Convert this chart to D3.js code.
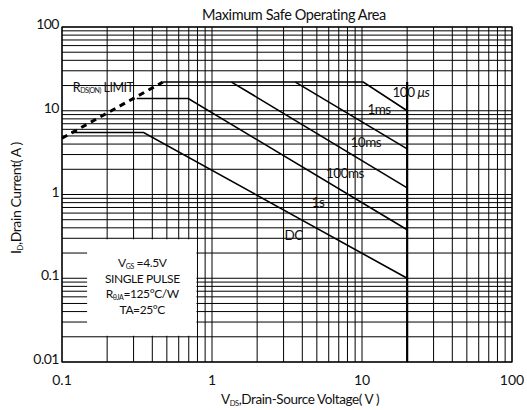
<!DOCTYPE html>
<html><head><meta charset="utf-8">
<script src="https://cdn.jsdelivr.net/npm/d3@7"></script>
<style>
html,body{margin:0;padding:0;background:#fff;}
svg text{font-family:Lato,"Liberation Sans",sans-serif;fill:#111;}
</style></head>
<body>
<svg id="chart" width="527" height="410"></svg>
<script>
// ---- data ----
const xTickValues = [0.1, 1, 10, 100];
const xTickLabels = ["0.1", "1", "10", "100"];
const yTickValues = [0.01, 0.1, 1, 10, 100];
const yTickLabels = ["0.01", "0.1", "1", "10", "100"];

// SOA boundaries: [VDS (V), ID (A)]
const rdsLimit = [[0.1, 4.7], [0.47, 22]];
const curve100us = [[0.47, 22], [10.2, 22], [20, 10]];
const curve1ms = [[3.6, 22], [20, 3.5]];
const curve10ms = [[1.35, 22], [20, 1.2]];
const curve100ms = [[0.315, 14], [0.695, 14], [20, 0.38]];
const curveDC = [[0.115, 5.5], [0.35, 5.5], [20, 0.1]];
const vdsMax = [[20, 22], [20, 0.01]];

// curve labels: [text, VDS, ID]
const curveLabels = [["1ms", 13.0, 10.5], ["10ms", 10.6, 4.2], ["100ms", 7.7, 1.8], ["1s", 5.1, 0.81], ["DC", 3.5, 0.33]];
const label100us = ["100 ", "μs", 21.2, 16.7];
const rdsLabel = [0.118, 19.2];

// legend box extents in data units
const legendV = [0.147, 0.8];
const legendI = [0.02, 0.3];

// ---- chart ----
const svg = d3.select("#chart");
const L = 62, R = 512, T = 27, B = 362;
const x = d3.scaleLog().domain([0.1, 100]).range([L, R]);
const y = d3.scaleLog().domain([0.01, 100]).range([B, T]);

const g = svg.append("g");
// grid
g.selectAll("line.vg").data(x.ticks()).enter().append("line")
  .attr("x1", d => x(d)).attr("x2", d => x(d)).attr("y1", T).attr("y2", B)
  .attr("stroke", "#000").attr("stroke-width", 1);
g.selectAll("line.hg").data(y.ticks()).enter().append("line")
  .attr("y1", d => y(d)).attr("y2", d => y(d)).attr("x1", L).attr("x2", R)
  .attr("stroke", "#000").attr("stroke-width", 1);

// legend box (white)
g.append("rect")
  .attr("x", x(legendV[0])).attr("y", y(legendI[1]) + 1)
  .attr("width", x(legendV[1]) - x(legendV[0]) - 1)
  .attr("height", y(legendI[0]) - y(legendI[1]) - 2)
  .attr("fill", "#fff");

// frame
g.append("rect").attr("x", L).attr("y", T).attr("width", R - L).attr("height", B - T)
  .attr("fill", "none").attr("stroke", "#000").attr("stroke-width", 1.2);

const line = d3.line().x(d => x(d[0])).y(d => y(d[1]));
[curve100us, curve1ms, curve10ms, curve100ms, curveDC].forEach(c => {
  g.append("path").attr("d", line(c)).attr("fill", "none").attr("stroke", "#000").attr("stroke-width", 1.6);
});
g.append("path").attr("d", line(vdsMax)).attr("fill", "none").attr("stroke", "#000").attr("stroke-width", 2.2);
g.append("path").attr("d", line(rdsLimit)).attr("fill", "none").attr("stroke", "#000")
  .attr("stroke-width", 3).attr("stroke-dasharray", "6,5");

// helper: text with parts [text, size, dy, style]
function rich(sel, parts) {
  parts.forEach(p => {
    const ts = sel.append("tspan").text(p[0]);
    if (p[1]) ts.attr("font-size", p[1]);
    if (p[2]) ts.attr("dy", p[2]);
    if (p[3]) ts.attr("font-style", p[3]);
  });
  return sel;
}

// curve labels
curveLabels.forEach(l => {
  g.append("text").attr("x", x(l[1])).attr("y", y(l[2]) + 5).attr("text-anchor", "middle")
    .attr("font-size", 13.5).attr("letter-spacing", -0.5).text(l[0]);
});
rich(g.append("text").attr("x", x(label100us[2])).attr("y", y(label100us[3]) + 5)
  .attr("text-anchor", "middle").attr("font-size", 13.5).attr("letter-spacing", -0.5),
  [[label100us[0]], [label100us[1], null, null, "italic"]]);

rich(g.append("text").attr("x", x(rdsLabel[0])).attr("y", y(rdsLabel[1]) + 4.5)
  .attr("font-size", 12.5).attr("letter-spacing", -0.5),
  [["R"], ["DS(ON)", 7, 1.5], [" LIMIT", 12.5, -1.5]]);

// legend text
const lcx = (x(legendV[0]) + x(legendV[1])) / 2;
const legendLines = [
  [["V"], ["GS", 7, 1.5], [" =4.5V", 12, -1.5]],
  [["SINGLE PULSE"]],
  [["R"], ["θJA", 7, 1.5], ["=125°C/W", 12, -1.5]],
  [["TA=25°C"]]
];
const legendY = [263, 279, 294, 310];
legendLines.forEach((parts, i) => {
  rich(g.append("text").attr("x", lcx).attr("y", legendY[i] + 4.3).attr("text-anchor", "middle")
    .attr("font-size", 12).attr("letter-spacing", -0.4), parts);
});

// tick labels
xTickValues.forEach((v, i) => {
  g.append("text").attr("x", x(v)).attr("y", 385).attr("text-anchor", "middle")
    .attr("font-size", 14).text(xTickLabels[i]);
});
yTickValues.forEach((v, i) => {
  g.append("text").attr("x", L - 3).attr("y", y(v) + 2).attr("text-anchor", "end")
    .attr("font-size", 14).attr("letter-spacing", -0.5).text(yTickLabels[i]);
});

// title
svg.append("text").attr("x", 294).attr("y", 20).attr("text-anchor", "middle")
  .attr("font-size", 14.5).attr("letter-spacing", -0.4)
  .text("Maximum Safe Operating Area");

// axis titles
rich(svg.append("text").attr("x", 300).attr("y", 404).attr("text-anchor", "middle")
  .attr("font-size", 13.5).attr("letter-spacing", -0.4),
  [["V"], ["DS", 7.5, 1.5], [",Drain-Source Voltage( V )", 13.5, -1.5]]);

rich(svg.append("text").attr("transform", "translate(21,198) rotate(-90)").attr("text-anchor", "middle")
  .attr("font-size", 14).attr("letter-spacing", -0.4),
  [["I"], ["D", 7.5, 1.5], [",Drain Current( A )", 14, -1.5]]);
</script>
</body></html>
